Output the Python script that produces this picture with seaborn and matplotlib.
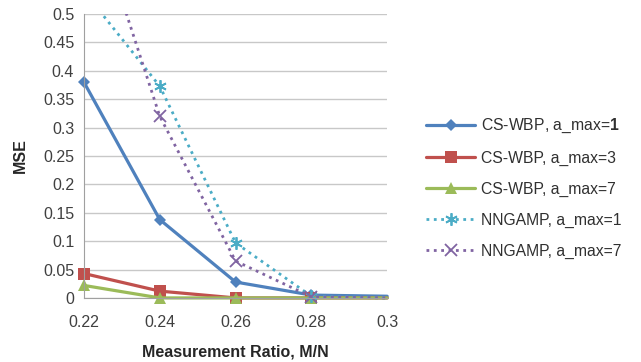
import numpy as np
import pandas as pd
import seaborn as sns
import matplotlib.pyplot as plt
from matplotlib.patches import Rectangle

# measurement ratio M/N
ratio = [0.22, 0.24, 0.26, 0.28, 0.30]

# MSE
wbp_a1 = [0.38, 0.138, 0.028, 0.005, 0.003]
wbp_a3 = [0.043, 0.012, 0.0, 0.0, 0.0]
wbp_a7 = [0.022, 0.0, 0.0, 0.0, 0.0]
ngamp_a1 = [0.54, 0.373, 0.097, 0.003, 0.0]
ngamp_a7 = [0.73, 0.32, 0.065, 0.002, 0.0]

labels = ["CS-WBP, a_max=$\\mathbf{1}$", "CS-WBP, a_max=3", "CS-WBP, a_max=7",
          "NNGAMP, a_max=1", "NNGAMP, a_max=7"]
xticks = [0.22, 0.24, 0.26, 0.28, 0.30]
xtick_labels = ["0.22", "0.24", "0.26", "0.28", "0.3"]
yticks = [0, 0.05, 0.1, 0.15, 0.2, 0.25, 0.3, 0.35, 0.4, 0.45, 0.5]
ytick_labels = ["0", "0.05", "0.1", "0.15", "0.2", "0.25", "0.3", "0.35", "0.4", "0.45", "0.5"]

sns.set_style("white")
plt.rcParams['font.family'] = ['Liberation Sans', 'DejaVu Sans']
plt.rcParams['mathtext.fontset'] = 'custom'
plt.rcParams['mathtext.bf'] = 'Liberation Sans:bold'
plt.rcParams['mathtext.rm'] = 'Liberation Sans'

fig = plt.figure(figsize=(6.41, 3.62), dpi=100)
ax = fig.add_axes([0.131, 0.177, 0.473, 0.784])

series = [wbp_a1, wbp_a3, wbp_a7, ngamp_a1, ngamp_a7]
colors = ["#4F81BD", "#C0504D", "#9BBB59", "#4BACC6", "#8064A2"]
markers = ["D", "s", "^", (6, 2, 0), "x"]
msizes = [6.5, 8, 8, 9, 9]
styles = ["-", "-", "-", ":", ":"]

for vals, lab, c, m, ms, ls in zip(series, labels, colors, markers, msizes, styles):
    lw = 2.3 if ls == "-" else 2.0
    sns.lineplot(x=ratio, y=vals, ax=ax, color=c, label=lab, linestyle=ls,
                 linewidth=lw, marker=m, markersize=ms,
                 markeredgewidth=0 if ls == "-" else 1.3,
                 markeredgecolor=c, markevery=[0, 1, 2, 3])

# clip only at the top so markers on the axes are not cut
for ln in ax.lines:
    ln.set_clip_path(Rectangle((-0.05, -0.06), 1.1, 1.06, transform=ax.transAxes))

ax.set_xlim(0.22, 0.30)
ax.set_ylim(0, 0.5)
ax.set_xticks(xticks)
ax.set_xticklabels(xtick_labels, fontsize=11.5, color="#404040")
ax.set_yticks(yticks)
ax.set_yticklabels(ytick_labels, fontsize=11.5, color="#404040")
ax.yaxis.grid(True, color="#C8C8C8", linewidth=1)
ax.xaxis.grid(False)
for s in ["top", "right"]:
    ax.spines[s].set_visible(False)
ax.spines["left"].set_color("#A0A0A0")
ax.spines["bottom"].set_color("#A0A0A0")
ax.tick_params(axis="x", length=4, color="#A0A0A0", pad=8)
ax.tick_params(axis="y", length=0, pad=7)
ax.set_axisbelow(True)

ax.set_xlabel("Measurement Ratio, M/N", fontsize=11.5, fontweight="bold", labelpad=11)
ax.set_ylabel("MSE", fontsize=11.5, fontweight="bold", labelpad=11)

leg = ax.legend(loc="upper left", bbox_to_anchor=(1.108, 0.66), frameon=False,
                fontsize=11.3, handlelength=3.1, labelspacing=1.0, handletextpad=0.4,
                borderaxespad=0)
for t in leg.get_texts():
    t.set_color("#303030")

fig.savefig("out.png", dpi=100)
